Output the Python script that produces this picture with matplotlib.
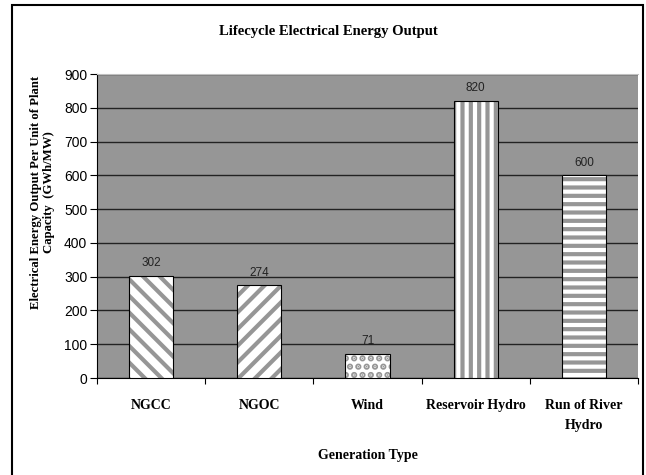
import numpy as np
import matplotlib.pyplot as plt
from matplotlib.patches import Rectangle

categories = ['NGCC', 'NGOC', 'Wind', 'Reservoir Hydro', 'Run of River\nHydro']
values = [302, 274, 71, 820, 600]
hatches = ['\\\\', '//', '..', '||', '--']
hatch_lw = [3.0, 3.0, 3.2, 3.0, 3.0]

plt.rcParams['hatch.color'] = '#969696'

serif = 'Liberation Serif'
sans = 'Liberation Sans'

fig = plt.figure(figsize=(6.46, 4.75), dpi=100)
ax = fig.add_axes([97/646, 97/475, 541/646, 304/475])
ax.set_facecolor('#969696')

x = np.arange(len(categories))
width = 0.41
# hatched fill first, then black outline on top
for xi, v, h, lw in zip(x, values, hatches, hatch_lw):
    with plt.rc_context({'hatch.linewidth': lw}):
        ax.bar(xi, v, width, color='white', edgecolor='#969696', hatch=h,
               linewidth=0, zorder=3)
ax.bar(x, values, width, fill=False, edgecolor='black', linewidth=0.8,
       zorder=4)
for xi, v in zip(x, values):
    ax.text(xi, v + 20, str(v), ha='center', va='bottom', fontsize=8.5,
            family=sans, color='#222222', zorder=5)

ax.set_xlim(-0.5, len(categories) - 0.5)
ax.set_ylim(0, 900)
ax.set_yticks(range(0, 901, 100))
ax.yaxis.grid(True, color='#222222', linewidth=1)
ax.set_axisbelow(True)

ax.set_xticks(x)
ax.set_xticklabels(categories, family=serif, fontweight='bold', fontsize=10,
                   linespacing=1.7)
ax.set_xticks(np.arange(-0.5, len(categories), 1), minor=True)
ax.tick_params(axis='x', which='major', length=0, pad=15)
ax.tick_params(axis='x', which='minor', length=4, width=0.8)
ax.tick_params(axis='y', length=5, width=0.8, labelsize=10, pad=2)
for lab in ax.get_yticklabels():
    lab.set_family(sans)

ax.spines['top'].set_color('#c0c0c0')
ax.spines['top'].set_linewidth(0.8)
ax.spines['right'].set_visible(False)
ax.spines['left'].set_linewidth(0.8)
ax.spines['bottom'].set_linewidth(0.8)

ax.set_xlabel('Generation Type', family=serif, fontweight='bold',
              fontsize=10, labelpad=12)
ax.set_ylabel('Electrical Energy Output Per Unit of Plant\nCapacity  (GWh/MW)',
              family=serif, fontweight='bold', fontsize=9.2, linespacing=1.1)
ax.yaxis.set_label_coords(-0.078, 0.612)
fig.text(328/646, 1 - 31/475, 'Lifecycle Electrical Energy Output',
         family=serif, fontweight='bold', fontsize=10.5,
         ha='center', va='center')

fig.patches.append(Rectangle((12/646, -0.01), 631/646, 1 - 5/475 + 0.01,
                             transform=fig.transFigure, fill=False,
                             edgecolor='black', linewidth=1.5))

fig.savefig('out.png', dpi=100)
